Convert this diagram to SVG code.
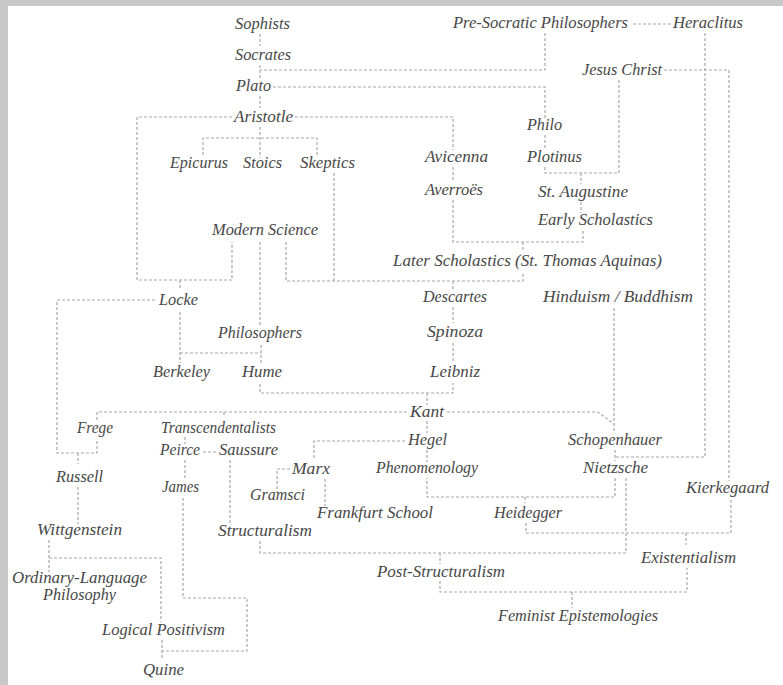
<svg xmlns="http://www.w3.org/2000/svg" width="783" height="685" viewBox="0 0 783 685">
<style>
.t{font-family:"Liberation Serif","Times New Roman",serif;font-style:italic;font-size:16px;fill:#474747;}
.c{fill:none;stroke:#a8a8a8;stroke-width:1.2;stroke-dasharray:3 2;}
</style>
<rect x="0" y="0" width="783" height="685" fill="#ffffff"/>
<rect x="0" y="0" width="783" height="6" fill="#c8c8c8"/>
<rect x="0" y="0" width="8" height="685" fill="#c8c8c8"/>
<g id="connectors">
<path class="c" d="M260 34V46M260 65V78M260 96V108"/>
<path class="c" d="M545 33V70H260"/>
<path class="c" d="M273 87H545V120"/>
<path class="c" d="M260 127V158M203 155V138H317V155"/>
<path class="c" d="M232 117H137V280H232V242M180 280V288"/>
<path class="c" d="M295 117H453V150"/>
<path class="c" d="M453 167V182"/>
<path class="c" d="M453 200V242H583V231M523 242V250"/>
<path class="c" d="M545 135V150"/>
<path class="c" d="M545 167V173H619V80M581 173V184"/>
<path class="c" d="M581 202V213"/>
<path class="c" d="M286 242V281H523V272M334 173V281M453 281V291"/>
<path class="c" d="M260 242V327"/>
<path class="c" d="M671 24H632"/>
<path class="c" d="M705 33V457H615"/>
<path class="c" d="M664 70H729V481"/>
<path class="c" d="M155 300H57V453H97V440M78 453V464"/>
<path class="c" d="M180 312V363M180 353H261"/>
<path class="c" d="M261 345V363"/>
<path class="c" d="M260 384V393H453V383M427 393V405"/>
<path class="c" d="M453 307V323M453 343V362"/>
<path class="c" d="M407 412H97V421M224 412V417"/>
<path class="c" d="M447 412H598L614 424M614 308V433"/>
<path class="c" d="M615 450V461"/>
<path class="c" d="M615 478V497H427V478M525 497V503"/>
<path class="c" d="M626 478V553H260V541M440 553V564M440 581V592H687V568M572 592V608"/>
<path class="c" d="M526 523V533H731V499M686 533V545"/>
<path class="c" d="M405 441H314V460"/>
<path class="c" d="M427 421V433M427 450V462"/>
<path class="c" d="M290 469H277V493"/>
<path class="c" d="M325 479V506"/>
<path class="c" d="M185 437V444M203 452H216M185 460V478"/>
<path class="c" d="M183 498V598H247V651H162M162 640V660"/>
<path class="c" d="M49 540V572M49 558H161V622"/>
<path class="c" d="M230 460V523"/>
<path class="c" d="M78 487V524"/>
</g>
<g id="sophists"><text class="t" x="235" y="29" textLength="55" lengthAdjust="spacingAndGlyphs">Sophists</text></g>
<g id="socrates"><text class="t" x="235" y="60" textLength="56" lengthAdjust="spacingAndGlyphs">Socrates</text></g>
<g id="plato"><text class="t" x="236" y="91" textLength="35" lengthAdjust="spacingAndGlyphs">Plato</text></g>
<g id="aristotle"><text class="t" x="234" y="122" textLength="59" lengthAdjust="spacingAndGlyphs">Aristotle</text></g>
<g id="epicurus"><text class="t" x="170" y="168" textLength="58" lengthAdjust="spacingAndGlyphs">Epicurus</text></g>
<g id="stoics"><text class="t" x="243" y="168" textLength="39" lengthAdjust="spacingAndGlyphs">Stoics</text></g>
<g id="skeptics"><text class="t" x="300" y="168" textLength="55" lengthAdjust="spacingAndGlyphs">Skeptics</text></g>
<g id="presocratic"><text class="t" x="453" y="28" textLength="175" lengthAdjust="spacingAndGlyphs">Pre-Socratic Philosophers</text></g>
<g id="heraclitus"><text class="t" x="673" y="28" textLength="70" lengthAdjust="spacingAndGlyphs">Heraclitus</text></g>
<g id="jesus"><text class="t" x="582" y="75" textLength="80" lengthAdjust="spacingAndGlyphs">Jesus Christ</text></g>
<g id="philo"><text class="t" x="527" y="130" textLength="35" lengthAdjust="spacingAndGlyphs">Philo</text></g>
<g id="plotinus"><text class="t" x="527" y="162" textLength="55" lengthAdjust="spacingAndGlyphs">Plotinus</text></g>
<g id="avicenna"><text class="t" x="425" y="162" textLength="63" lengthAdjust="spacingAndGlyphs">Avicenna</text></g>
<g id="averroes"><text class="t" x="425" y="195" textLength="58" lengthAdjust="spacingAndGlyphs">Averroës</text></g>
<g id="augustine"><text class="t" x="538" y="197" textLength="90" lengthAdjust="spacingAndGlyphs">St. Augustine</text></g>
<g id="early-scholastics"><text class="t" x="538" y="225" textLength="115" lengthAdjust="spacingAndGlyphs">Early Scholastics</text></g>
<g id="modern-science"><text class="t" x="212" y="235" textLength="106" lengthAdjust="spacingAndGlyphs">Modern Science</text></g>
<g id="later-scholastics"><text class="t" x="393" y="266" textLength="269" lengthAdjust="spacingAndGlyphs">Later Scholastics (St. Thomas Aquinas)</text></g>
<g id="locke"><text class="t" x="159" y="305" textLength="39" lengthAdjust="spacingAndGlyphs">Locke</text></g>
<g id="descartes"><text class="t" x="423" y="302" textLength="64" lengthAdjust="spacingAndGlyphs">Descartes</text></g>
<g id="hinduism"><text class="t" x="543" y="302" textLength="150" lengthAdjust="spacingAndGlyphs">Hinduism / Buddhism</text></g>
<g id="philosophers"><text class="t" x="218" y="338" textLength="84" lengthAdjust="spacingAndGlyphs">Philosophers</text></g>
<g id="spinoza"><text class="t" x="427" y="337" textLength="56" lengthAdjust="spacingAndGlyphs">Spinoza</text></g>
<g id="berkeley"><text class="t" x="153" y="377" textLength="57" lengthAdjust="spacingAndGlyphs">Berkeley</text></g>
<g id="hume"><text class="t" x="242" y="377" textLength="40" lengthAdjust="spacingAndGlyphs">Hume</text></g>
<g id="leibniz"><text class="t" x="430" y="377" textLength="50" lengthAdjust="spacingAndGlyphs">Leibniz</text></g>
<g id="kant"><text class="t" x="410" y="417" textLength="34" lengthAdjust="spacingAndGlyphs">Kant</text></g>
<g id="frege"><text class="t" x="77" y="433" textLength="36" lengthAdjust="spacingAndGlyphs">Frege</text></g>
<g id="transcendentalists"><text class="t" x="161" y="433" textLength="115" lengthAdjust="spacingAndGlyphs">Transcendentalists</text></g>
<g id="hegel"><text class="t" x="408" y="445" textLength="39" lengthAdjust="spacingAndGlyphs">Hegel</text></g>
<g id="schopenhauer"><text class="t" x="568" y="445" textLength="94" lengthAdjust="spacingAndGlyphs">Schopenhauer</text></g>
<g id="peirce"><text class="t" x="160" y="455" textLength="40" lengthAdjust="spacingAndGlyphs">Peirce</text></g>
<g id="saussure"><text class="t" x="219" y="455" textLength="59" lengthAdjust="spacingAndGlyphs">Saussure</text></g>
<g id="marx"><text class="t" x="292" y="474" textLength="38" lengthAdjust="spacingAndGlyphs">Marx</text></g>
<g id="phenomenology"><text class="t" x="376" y="473" textLength="102" lengthAdjust="spacingAndGlyphs">Phenomenology</text></g>
<g id="nietzsche"><text class="t" x="583" y="473" textLength="65" lengthAdjust="spacingAndGlyphs">Nietzsche</text></g>
<g id="russell"><text class="t" x="56" y="482" textLength="47" lengthAdjust="spacingAndGlyphs">Russell</text></g>
<g id="james"><text class="t" x="162" y="492" textLength="37" lengthAdjust="spacingAndGlyphs">James</text></g>
<g id="kierkegaard"><text class="t" x="686" y="493" textLength="83" lengthAdjust="spacingAndGlyphs">Kierkegaard</text></g>
<g id="gramsci"><text class="t" x="250" y="500" textLength="55" lengthAdjust="spacingAndGlyphs">Gramsci</text></g>
<g id="frankfurt"><text class="t" x="317" y="518" textLength="116" lengthAdjust="spacingAndGlyphs">Frankfurt School</text></g>
<g id="heidegger"><text class="t" x="494" y="518" textLength="68" lengthAdjust="spacingAndGlyphs">Heidegger</text></g>
<g id="wittgenstein"><text class="t" x="37" y="535" textLength="85" lengthAdjust="spacingAndGlyphs">Wittgenstein</text></g>
<g id="structuralism"><text class="t" x="218" y="536" textLength="94" lengthAdjust="spacingAndGlyphs">Structuralism</text></g>
<g id="existentialism"><text class="t" x="641" y="563" textLength="95" lengthAdjust="spacingAndGlyphs">Existentialism</text></g>
<g id="post-structuralism"><text class="t" x="377" y="577" textLength="128" lengthAdjust="spacingAndGlyphs">Post-Structuralism</text></g>
<g id="ordinary-language"><text class="t" x="12" y="583" textLength="135" lengthAdjust="spacingAndGlyphs">Ordinary-Language</text><text class="t" x="43" y="600" textLength="73" lengthAdjust="spacingAndGlyphs">Philosophy</text></g>
<g id="feminist"><text class="t" x="498" y="621" textLength="160" lengthAdjust="spacingAndGlyphs">Feminist Epistemologies</text></g>
<g id="logical-positivism"><text class="t" x="102" y="635" textLength="123" lengthAdjust="spacingAndGlyphs">Logical Positivism</text></g>
<g id="quine"><text class="t" x="143" y="675" textLength="41" lengthAdjust="spacingAndGlyphs">Quine</text></g>
</svg>
